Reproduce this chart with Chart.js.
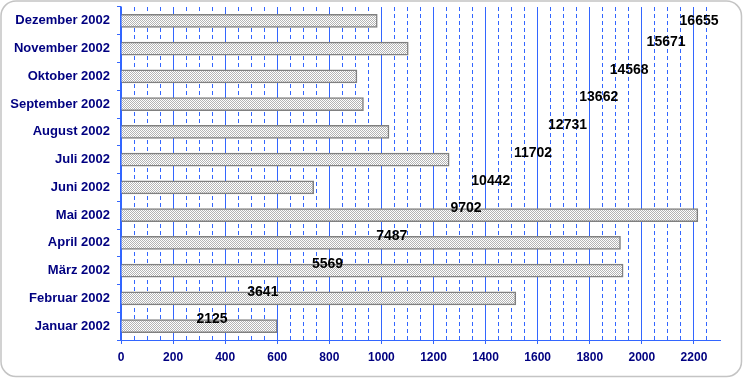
<!DOCTYPE html>
<html>
<head>
<meta charset="utf-8">
<script src="https://cdn.jsdelivr.net/npm/chart.js@4.4.0/dist/chart.umd.min.js"></script>
<style>
html, body { margin: 0; padding: 0; background: #fff; }
#wrap { width: 743px; height: 378px; }
</style>
</head>
<body>
<div id="wrap"><canvas id="grafik" width="743" height="378"></canvas></div>
<script>
const monate = ["Januar 2002", "Februar 2002", "März 2002", "April 2002", "Mai 2002", "Juni 2002",
    "Juli 2002", "August 2002", "September 2002", "Oktober 2002", "November 2002", "Dezember 2002"];
const werte = [600, 1516, 1928, 1918, 2215, 740, 1260, 1029, 931, 906, 1103, 984];
const kumuliert = [2125, 3641, 5569, 7487, 9702, 10442, 11702, 12731, 13662, 14568, 15671, 16655];

const blau = "#3366ff";
const navy = "#000080";
const schrift = '"Liberation Sans", Arial, sans-serif';

// feines Schachbrettmuster fuer die Balken
function muster() {
    let c = document.createElement("canvas");
    c.width = 2; c.height = 2;
    let g = c.getContext("2d");
    g.fillStyle = "#ffffff";
    g.fillRect(0, 0, 2, 2);
    g.fillStyle = "#b4b4b4";
    g.fillRect(0, 0, 1, 1);
    g.fillRect(1, 1, 1, 1);
    return g.createPattern(c, "repeat");
}

const hintergrund = {
    id: "hintergrund",
    beforeDraw(chart) {
        let ctx = chart.ctx;
        ctx.save();
        ctx.fillStyle = "#ffffff";
        ctx.fillRect(0, 0, chart.width, chart.height);
        ctx.strokeStyle = "#c4c4c4";
        ctx.lineWidth = 1.5;
        ctx.beginPath();
        ctx.roundRect(1, 1, chart.width - 2.5, chart.height - 2.5, 15);
        ctx.stroke();
        ctx.restore();
    }
};

const summenLabels = {
    id: "summenLabels",
    afterDatasetsDraw(chart) {
        let meta = chart.getDatasetMeta(1);
        let ctx = chart.ctx;
        ctx.save();
        ctx.font = "bold 14px " + schrift;
        ctx.fillStyle = "#000000";
        ctx.textAlign = "center";
        ctx.textBaseline = "middle";
        meta.data.forEach((pt, i) => {
            let y = Math.max(pt.y - 6.5, chart.chartArea.top + 14);
            ctx.fillText(kumuliert[i], pt.x, y);
        });
        ctx.restore();
    }
};

new Chart(document.getElementById("grafik").getContext("2d"), {
    type: "bar",
    data: {
        labels: monate,
        datasets: [{
            label: "Monat",
            data: werte,
            backgroundColor: muster(),
            borderColor: "#808080",
            borderWidth: 1.5,
            barThickness: 13,
            xAxisID: "x",
            yAxisID: "y"
        }, {
            type: "line",
            label: "Summe",
            data: kumuliert,
            indexAxis: "y",
            xAxisID: "x2",
            yAxisID: "y",
            showLine: false,
            pointRadius: 0
        }]
    },
    options: {
        indexAxis: "y",
        responsive: false,
        animation: false,
        devicePixelRatio: 1,
        layout: { padding: { top: 7, right: 23, left: 0, bottom: 0 } },
        plugins: {
            legend: { display: false },
            tooltip: { enabled: false }
        },
        scales: {
            // Hilfsgitter alle 50, gestrichelt
            xm: {
                type: "linear",
                axis: "x",
                position: "bottom",
                min: 0,
                max: 2300,
                afterFit(s) { s.height = 0; },
                ticks: { display: false, stepSize: 50, autoSkip: false },
                grid: {
                    color: c => (c.tick && c.tick.value % 200 !== 0 && c.tick.value < 2300) ? blau : "rgba(0,0,0,0)",
                    lineWidth: 1,
                    drawTicks: false
                },
                border: { display: true, color: "rgba(0,0,0,0)", width: 1, dash: [4, 3] }
            },
            x: {
                type: "linear",
                position: "bottom",
                min: 0,
                max: 2300,
                afterFit(s) { s.height = 38; },
                ticks: {
                    stepSize: 200,
                    includeBounds: false,
                    autoSkip: false,
                    maxRotation: 0,
                    padding: 6,
                    color: navy,
                    font: { family: schrift, size: 12, weight: "bold" },
                    callback: v => String(v)
                },
                grid: {
                    color: blau,
                    lineWidth: 1,
                    tickLength: 4,
                    tickColor: blau
                },
                border: { color: blau, width: 1 }
            },
            x2: {
                type: "linear",
                display: false,
                min: -591,
                max: 17280
            },
            y: {
                reverse: true,
                afterFit(s) {
                    s.width = 121;
                    s.paddingTop = 0;
                    s.paddingBottom = 0;
                },
                ticks: {
                    padding: 7,
                    color: navy,
                    font: { family: schrift, size: 13, weight: "bold" }
                },
                grid: {
                    drawOnChartArea: false,
                    offset: true,
                    color: blau,
                    tickLength: 4
                },
                border: { color: blau, width: 1.5 }
            }
        }
    },
    plugins: [hintergrund, summenLabels]
});
</script>
</body>
</html>
